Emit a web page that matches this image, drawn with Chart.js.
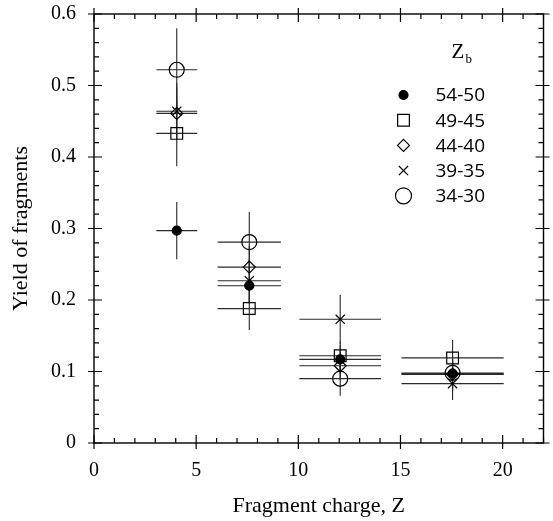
<!DOCTYPE html>
<html>
<head>
<meta charset="utf-8">
<title>Yield of fragments</title>
<script src="https://cdn.jsdelivr.net/npm/chart.js@4.4.1/dist/chart.umd.min.js"></script>
<style>
  html, body { margin: 0; padding: 0; background: #fff; }
  #wrap { width: 553px; height: 521px; }
</style>
</head>
<body>
<div id="wrap"><canvas id="myChart" width="553" height="521"></canvas></div>
<script>
// fragment charge bins (centre and half width)
const zCenters = [4.05, 7.6, 12.05, 17.55];
const zHalfWidth = [1.0, 1.55, 2.0, 2.5];

// Z_b groups
const groupLabels = ['54-50', '49-45', '44-40', '39-35', '34-30'];

// yields per group, same order as zCenters
const yield5450 = [0.297, 0.220, 0.117, 0.097];
const yield4945 = [0.433, 0.188, 0.122, 0.119];
const yield4440 = [0.461, 0.246, 0.108, 0.096];
const yield3935 = [0.464, 0.227, 0.173, 0.083];
const yield3430 = [0.522, 0.281, 0.090, 0.098];

// vertical errors
const err5450 = [0.040, 0.025, 0.020, 0.020];
const err4945 = [0.046, 0.030, 0.020, 0.025];
const err4440 = [0.035, 0.030, 0.020, 0.020];
const err3935 = [0.040, 0.030, 0.034, 0.023];
const err3430 = [0.058, 0.042, 0.024, 0.025];

const xTicks = [0, 5, 10, 15, 20];
const yTicks = [0, 0.1, 0.2, 0.3, 0.4, 0.5, 0.6];

const serif = '"Liberation Serif", "Times New Roman", serif';

function makePoints(ys, errs) {
    return zCenters.map(function(x, i) {
        return { x: x, y: ys[i], xerr: zHalfWidth[i], yerr: errs[i] };
    });
}

const styles = [
    { pointStyle: 'circle', pointRadius: 4.5, fill: '#000' },
    { pointStyle: 'rect', pointRadius: 8.3, fill: 'rgba(0,0,0,0)' },
    { pointStyle: 'rectRot', pointRadius: 6, fill: 'rgba(0,0,0,0)' },
    { pointStyle: 'crossRot', pointRadius: 6.5, fill: 'rgba(0,0,0,0)' },
    { pointStyle: 'circle', pointRadius: 7.5, fill: 'rgba(0,0,0,0)' }
];
const allYields = [yield5450, yield4945, yield4440, yield3935, yield3430];
const allErrs = [err5450, err4945, err4440, err3935, err3430];

const datasets = groupLabels.map(function(label, k) {
    return {
        label: label,
        data: makePoints(allYields[k], allErrs[k]),
        pointStyle: styles[k].pointStyle,
        pointRadius: styles[k].pointRadius,
        pointHoverRadius: styles[k].pointRadius,
        pointBackgroundColor: styles[k].fill,
        pointBorderColor: '#000',
        pointBorderWidth: 1.2,
        showLine: false
    };
});

// error bars, drawn with the chart's scales
const errorBars = {
    id: 'errorBars',
    beforeDatasetsDraw(chart) {
        const ctx = chart.ctx;
        const xs = chart.scales.x, ys = chart.scales.y;
        ctx.save();
        ctx.strokeStyle = '#2a2a2a';
        ctx.lineWidth = 1.1;
        chart.data.datasets.forEach(function(ds) {
            ds.data.forEach(function(p) {
                const px = xs.getPixelForValue(p.x);
                const py = ys.getPixelForValue(p.y);
                ctx.beginPath();
                ctx.moveTo(xs.getPixelForValue(p.x - p.xerr), py);
                ctx.lineTo(xs.getPixelForValue(p.x + p.xerr), py);
                ctx.moveTo(px, ys.getPixelForValue(p.y - p.yerr));
                ctx.lineTo(px, ys.getPixelForValue(p.y + p.yerr));
                ctx.stroke();
            });
        });
        ctx.restore();
    }
};

// box with inward ticks on all four sides
const frame = {
    id: 'frame',
    afterDraw(chart) {
        const ctx = chart.ctx;
        const a = chart.chartArea;
        const xs = chart.scales.x, ys = chart.scales.y;
        ctx.save();
        ctx.strokeStyle = '#000';
        ctx.lineWidth = 1.4;
        ctx.strokeRect(a.left, a.top, a.right - a.left, a.bottom - a.top);
        ctx.lineWidth = 1.2;
        ctx.beginPath();
        for (let v = 0; v <= 22; v++) {
            const px = xs.getPixelForValue(v);
            const major = v % 5 === 0;
            const inner = major ? 8 : 5;
            const outer = major ? 6 : 0;
            ctx.moveTo(px, a.bottom + outer);
            ctx.lineTo(px, a.bottom - inner);
            ctx.moveTo(px, a.top - outer);
            ctx.lineTo(px, a.top + inner);
        }
        for (let i = 0; i <= 30; i++) {
            const v = i * 0.02;
            const py = ys.getPixelForValue(v);
            const major = i % 5 === 0;
            const inner = major ? 8 : 5;
            const outer = major ? 6 : 0;
            ctx.moveTo(a.left - outer, py);
            ctx.lineTo(a.left + inner, py);
            ctx.moveTo(a.right + outer, py);
            ctx.lineTo(a.right - inner, py);
        }
        ctx.stroke();
        ctx.restore();
    }
};

// legend inside the plot, with Z_b heading
const zLegend = {
    id: 'zLegend',
    afterDraw(chart) {
        const ctx = chart.ctx;
        const a = chart.chartArea;
        const mx = a.right - 140;
        const tx = a.right - 108;
        const top = a.top + 81;
        const step = 25.2;
        ctx.save();
        ctx.fillStyle = '#000';
        ctx.textBaseline = 'middle';
        ctx.font = '21px ' + serif;
        ctx.fillText('Z', a.right - 92, a.top + 38);
        ctx.font = '13px ' + serif;
        ctx.fillText('b', a.right - 78, a.top + 46);
        ctx.font = '19px "Open Sans", sans-serif';
        chart.data.datasets.forEach(function(ds, k) {
            const y = top + k * step;
            const r = ds.pointStyle === 'circle' && k === 4 ? 8 : ds.pointRadius;
            ctx.strokeStyle = '#000';
            ctx.fillStyle = ds.pointBackgroundColor;
            ctx.lineWidth = 1.2;
            Chart.helpers.drawPoint(ctx, { pointStyle: ds.pointStyle, radius: r, borderWidth: 1.2, rotation: 0 }, mx, y);
            ctx.fillStyle = '#000';
            ctx.fillText(ds.label, tx, y + 1);
        });
        ctx.restore();
    }
};

const ctx = document.getElementById('myChart').getContext('2d');
let myChart = new Chart(ctx, {
    type: 'scatter',
    data: { datasets: datasets },
    options: {
        responsive: false,
        animation: false,
        layout: { padding: { top: 14, right: 8, left: 0, bottom: 0 } },
        plugins: {
            legend: { display: false },
            tooltip: { enabled: false }
        },
        scales: {
            x: {
                type: 'linear',
                min: 0,
                max: 22,
                afterFit: function(scale) {
                    scale.height = 78;
                    scale.paddingLeft = 0;
                    scale.paddingRight = 0;
                },
                afterBuildTicks: function(scale) {
                    scale.ticks = xTicks.map(function(v) { return { value: v }; });
                },
                grid: { display: false },
                border: { display: false },
                ticks: {
                    padding: 8,
                    color: '#000',
                    font: { family: serif, size: 20 },
                    callback: function(v) { return String(v); }
                },
                title: {
                    display: true,
                    text: 'Fragment charge, Z',
                    color: '#000',
                    font: { family: serif, size: 22 },
                    padding: { top: 0, bottom: 2 }
                }
            },
            y: {
                type: 'linear',
                min: 0,
                max: 0.6,
                afterFit: function(scale) {
                    scale.width = 94;
                    scale.paddingTop = 0;
                    scale.paddingBottom = 0;
                },
                afterBuildTicks: function(scale) {
                    scale.ticks = yTicks.map(function(v) { return { value: v }; });
                },
                grid: { display: false },
                border: { display: false },
                ticks: {
                    padding: 10,
                    color: '#000',
                    font: { family: serif, size: 20 },
                    callback: function(v) { return v === 0 ? '0' : v.toFixed(1); }
                },
                title: {
                    display: true,
                    text: 'Yield of fragments',
                    color: '#000',
                    font: { family: serif, size: 22 },
                    padding: { top: 8, bottom: 0 }
                }
            }
        }
    },
    plugins: [errorBars, frame, zLegend]
});
</script>
</body>
</html>
